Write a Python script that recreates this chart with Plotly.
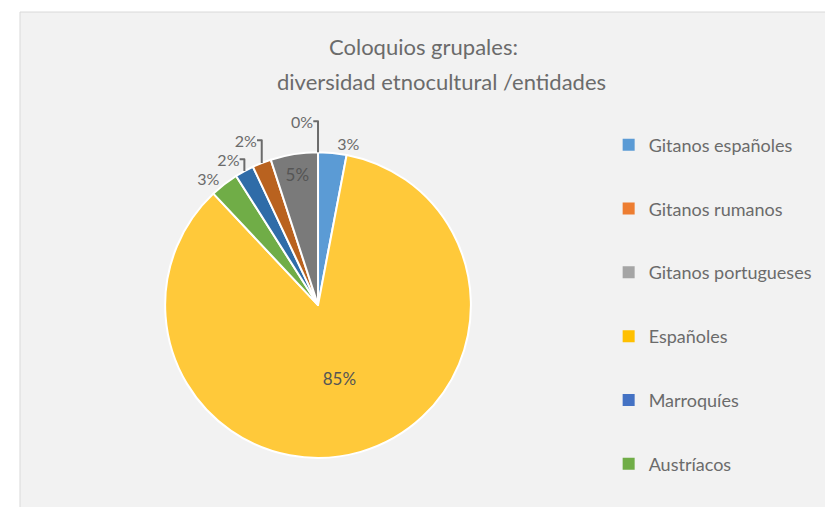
import plotly.graph_objects as go

# Slices in clockwise drawing order (from 12 o'clock)
slice_labels = ["Gitanos españoles", "Españoles", "Austríacos", "Marroquíes",
                "Gitanos rumanos", "Gitanos portugueses", "Otros"]
slice_values = [3, 85, 3, 2, 2, 5, 0]
slice_colors = ["#5B9BD5", "#FFC93A", "#70AD47", "#2F6CA8", "#B9621F", "#7A7A7A", "#A5A5A5"]
slice_textpos = ["outside", "inside", "outside", "outside", "outside", "inside", "outside"]

# Legend order as in the reference
legend_labels = ["Gitanos españoles", "Gitanos rumanos", "Gitanos portugueses",
                 "Españoles", "Marroquíes", "Austríacos"]
legend_colors = ["#5B9BD5", "#ED7D31", "#A5A5A5", "#FFC000", "#4472C4", "#70AD47"]

title_line1 = "Coloquios grupales:"
title_line2 = "diversidad etnocultural /entidades"

FONT = "Lato, Carlito, Calibri, sans-serif"
TXT = "#6b6b6b"

fig = go.Figure()
fig.add_trace(go.Pie(
    labels=slice_labels, values=slice_values, sort=False, direction="clockwise",
    rotation=0, textinfo="percent", textposition=slice_textpos,
    texttemplate="%{percent:.0%}",
    marker=dict(colors=slice_colors, line=dict(color="white", width=2)),
    textfont=dict(family=FONT, size=16, color="#555555"),
    insidetextfont=dict(family=FONT, size=17, color="#555555"),
    outsidetextfont=dict(family=FONT, size=16, color="#6b6b6b"),
    showlegend=False, domain=dict(x=[0.1768, 0.5492], y=[0.1143, 0.7288]),
    hoverinfo="label+percent",
))

for lab, col in zip(legend_labels, legend_colors):
    fig.add_trace(go.Scatter(x=[None], y=[None], mode="markers", name=lab,
                             legendgroup=lab,
                             marker=dict(symbol="square", size=7, color=col)))

fig.update_layout(
    width=833, height=507,
    margin=dict(l=12, r=0, t=9, b=0),
    paper_bgcolor="white", plot_bgcolor="rgba(0,0,0,0)",
    xaxis=dict(visible=False), yaxis=dict(visible=False),
    font=dict(family=FONT, color=TXT),
    showlegend=True,
    legend=dict(x=0.717, y=0.78, xanchor="left", yanchor="top",
                font=dict(family=FONT, size=18, color=TXT),
                tracegroupgap=37.4, bgcolor="rgba(0,0,0,0)", itemsizing="constant",
                itemwidth=30),
    shapes=[dict(type="rect", xref="paper", yref="paper", x0=0, x1=1.01, y0=-0.01, y1=1.01,
                 fillcolor="#F2F2F2", line=dict(color="#D9D9D9", width=1), layer="below")],
    annotations=[
        dict(text=title_line1, xref="paper", yref="paper", x=0.492, y=0.940,
             yanchor="middle", showarrow=False, font=dict(family=FONT, size=22, color=TXT)),
        dict(text=title_line2, xref="paper", yref="paper", x=0.514, y=0.870,
             yanchor="middle", showarrow=False, font=dict(family=FONT, size=22, color=TXT)),
    ],
)

fig.write_html("out.html")
